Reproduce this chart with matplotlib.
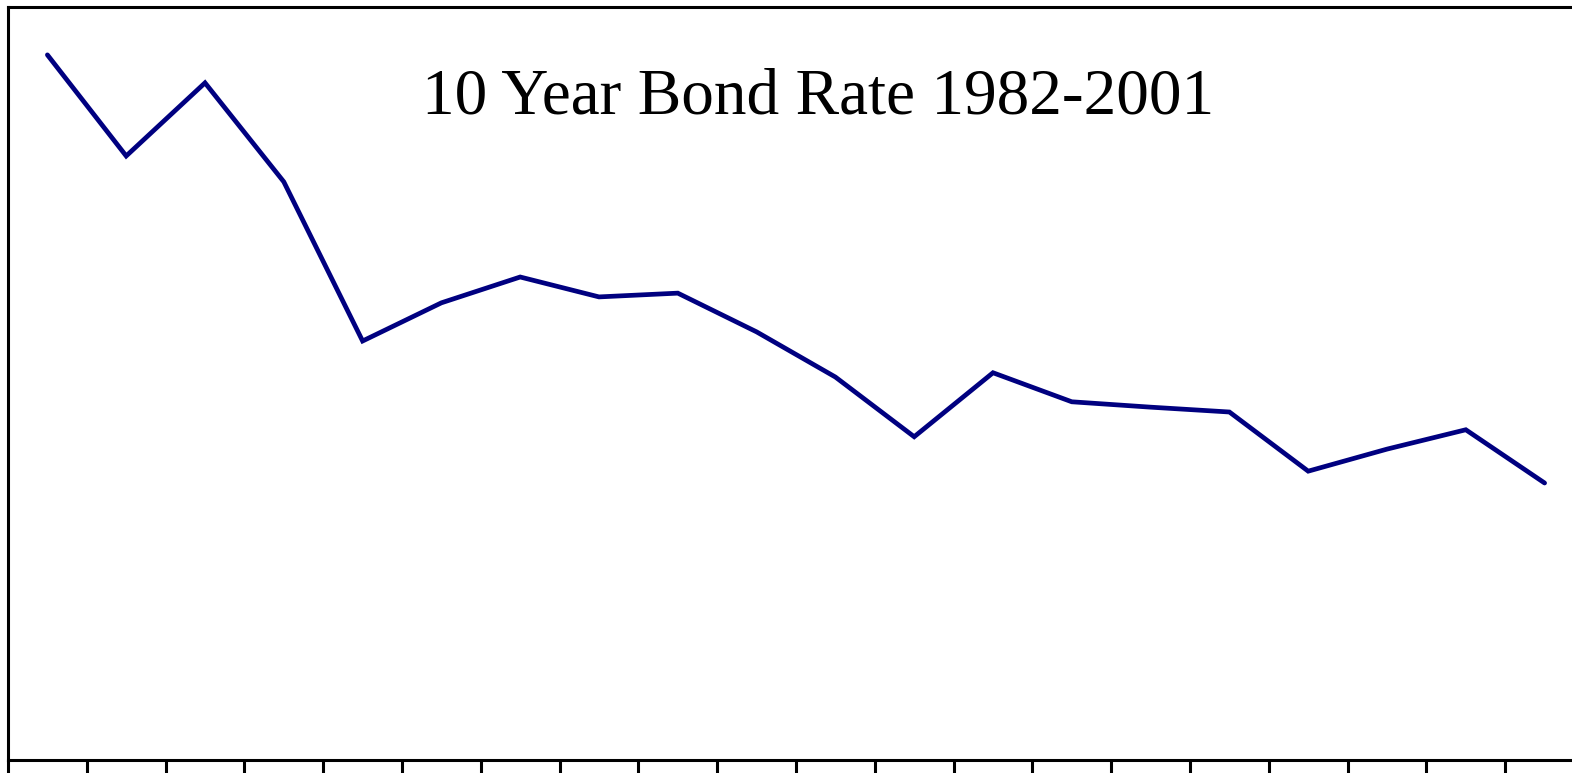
import matplotlib
matplotlib.use("Agg")
import matplotlib.pyplot as plt
import numpy as np
from matplotlib.ticker import FixedLocator, NullLocator

years = list(range(1982, 2002))
rates = [13.11, 11.23, 12.59, 10.75, 7.79, 8.50, 8.98, 8.61, 8.68, 7.96,
         7.12, 6.01, 7.20, 6.66, 6.56, 6.47, 5.37, 5.78, 6.14, 5.15]
title = "10 Year Bond Rate 1982-2001"

W, H = 1572, 773
fig = plt.figure(figsize=(W / 100, H / 100), dpi=100)
left, right = 8 / W, 1584 / W
bottom, top = (H - 760) / H, (H - 7) / H
ax = fig.add_axes([left, bottom, right - left, top - bottom])

x = np.arange(len(years))
ax.plot(x, rates, color="#000080", lw=3.4, solid_capstyle="round", solid_joinstyle="miter")
ax.set_xlim(-0.5, len(years) - 0.5)
ax.set_ylim(0, 14)

for s in ax.spines.values():
    s.set_linewidth(2.2)
    s.set_color("black")

ax.xaxis.set_major_locator(FixedLocator(np.arange(-0.5, len(years), 1.0)))
ax.xaxis.set_minor_locator(NullLocator())
ax.tick_params(axis="x", direction="out", length=12, width=2.2, labelbottom=False)
ax.yaxis.set_major_locator(NullLocator())

fig.text(818 / W, 1 - 113 / H, title, ha="center", va="baseline",
         fontsize=47, family="Liberation Serif", color="black")

fig.savefig("out.png", dpi=100)
